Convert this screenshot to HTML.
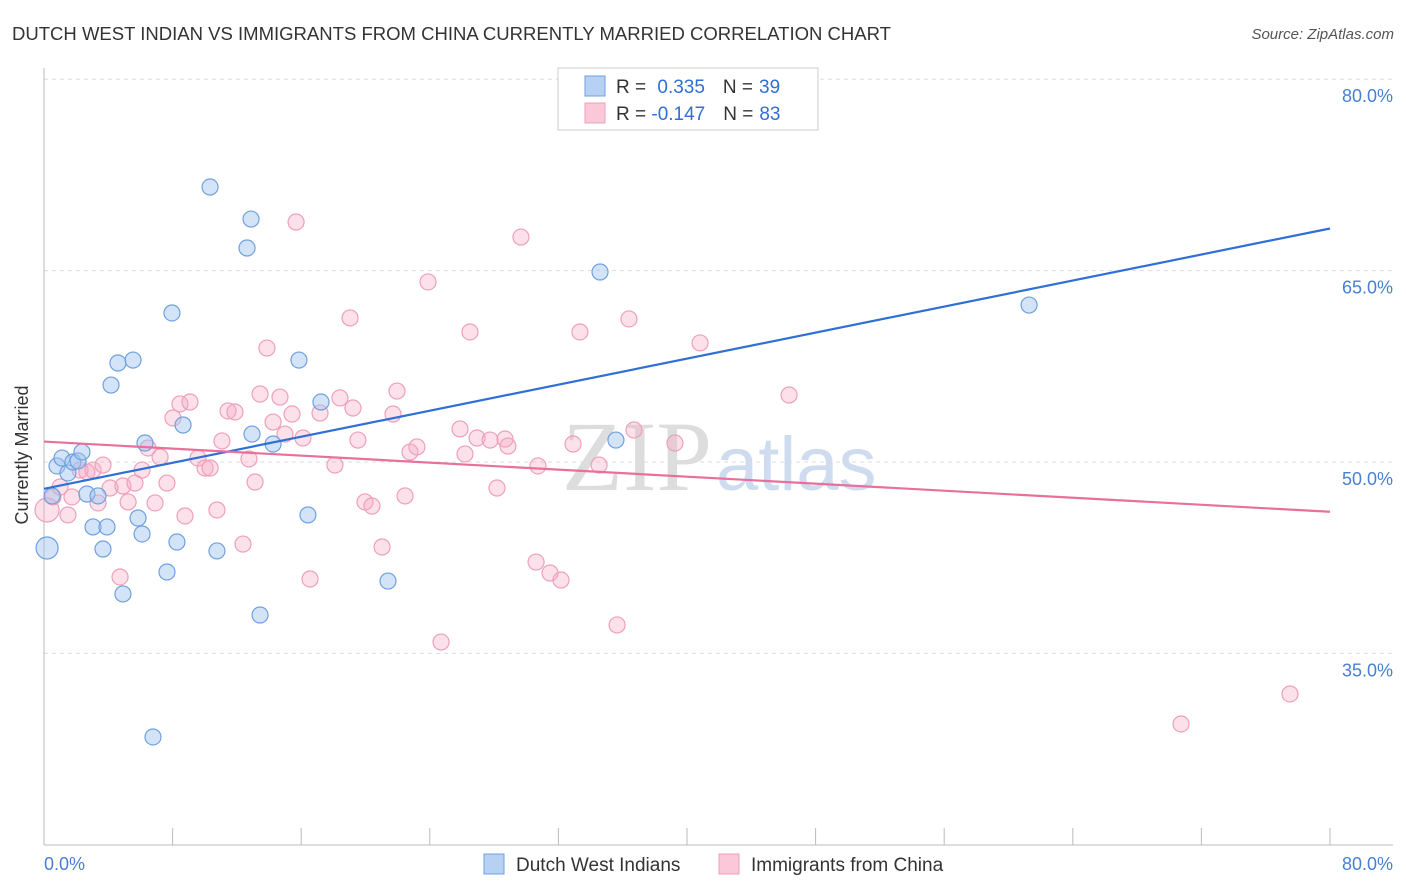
<!DOCTYPE html>
<html><head><meta charset="utf-8"><style>
body{margin:0;background:#fff;font-family:"Liberation Sans",sans-serif;}
#c{position:relative;width:1406px;height:892px;overflow:hidden}
</style></head><body>
<div id="c">
<svg id="s" width="1406" height="892" xmlns="http://www.w3.org/2000/svg">
<text x="12" y="40" font-size="18" fill="#333" textLength="879" lengthAdjust="spacingAndGlyphs">DUTCH WEST INDIAN VS IMMIGRANTS FROM CHINA CURRENTLY MARRIED CORRELATION CHART</text>
<text x="1394" y="39" font-size="15" fill="#555" font-style="italic" text-anchor="end">Source: ZipAtlas.com</text>
<text x="712" y="490" font-size="100" fill="#ddd" text-anchor="end" font-family="Liberation Serif,serif">ZIP</text>
<text x="716" y="490" font-size="76" fill="#cfdcf0">atlas</text>
<g id="grid"></g><g id="axes"></g><g id="pts"></g><g id="trend"></g>
<text x="28" y="455" font-size="18" fill="#333" text-anchor="middle" transform="rotate(-90 28 455)">Currently Married</text>
<text x="44" y="870" font-size="18" fill="#4a7fd0">0.0%</text>
<text x="1393" y="870" font-size="18" fill="#4a7fd0" text-anchor="end">80.0%</text>
<g>
<rect x="558" y="68" width="260" height="62" fill="#fff" stroke="#ccc"/>
<rect x="585" y="76" width="20" height="20" fill="#b7d1f5" stroke="#6fa0e0"/>
<rect x="585" y="103" width="20" height="20" fill="#fac8d8" stroke="#eea0b8"/>
<text x="616" y="93" font-size="19" fill="#333">R = <tspan fill="#2f6fd6" dx="6">0.335</tspan><tspan dx="18" fill="#333">N =</tspan><tspan fill="#2f6fd6" dx="6">39</tspan></text>
<text x="616" y="120" font-size="19" fill="#333">R = <tspan fill="#2f6fd6" dx="0">-0.147</tspan><tspan dx="18" fill="#333">N =</tspan><tspan fill="#2f6fd6" dx="6">83</tspan></text>
</g>
<g>
<rect x="484" y="854" width="20" height="20" fill="#b7d1f5" stroke="#6fa0e0"/>
<text x="516" y="871" font-size="19" fill="#333">Dutch West Indians</text>
<rect x="719" y="854" width="20" height="20" fill="#fac8d8" stroke="#eea0b8"/>
<text x="751" y="871" font-size="19" fill="#333">Immigrants from China</text>
</g>
</svg></div>
<script>
const yTicks=[80,65,50,35];
const blueX=[0.19,0.50,0.81,1.12,1.49,1.80,2.12,2.36,2.67,3.05,3.36,3.67,3.92,4.17,4.60,4.91,5.54,5.85,6.10,6.28,6.78,7.65,7.96,8.27,8.65,10.33,10.76,12.63,12.88,12.94,13.44,14.25,15.86,16.42,17.23,21.40,34.59,35.58,61.28];
const blueY=[43.26,47.34,49.69,50.31,49.14,50.0,50.08,50.78,47.49,44.91,47.34,43.18,44.91,56.03,57.76,39.66,57.99,45.61,44.36,51.49,28.45,41.38,61.68,43.73,52.90,71.55,43.03,66.77,69.04,52.19,38.01,51.41,57.99,45.85,54.70,40.67,64.89,51.72,62.30];
const pinkX=[0.19,0.56,1.0,1.49,1.74,2.24,2.67,3.05,3.36,3.67,4.11,4.73,4.91,5.23,5.66,6.10,6.47,6.91,7.22,7.65,8.02,8.46,8.77,9.08,9.58,10.02,10.33,10.76,11.07,11.45,11.88,12.38,12.75,13.13,13.44,13.87,14.25,14.68,14.99,15.43,15.68,16.11,16.55,17.17,18.10,18.41,19.04,19.22,19.53,19.97,20.40,21.03,21.71,21.96,22.46,22.77,23.20,23.89,24.70,25.88,26.19,26.50,26.94,27.75,28.18,28.68,28.86,29.67,30.61,30.73,31.48,32.16,32.91,33.34,34.53,35.65,36.39,36.70,39.25,40.81,46.35,70.73,77.51];
const pinkY=[46.24,47.26,48.04,45.85,47.26,49.37,49.22,49.37,46.79,49.76,47.96,40.99,48.12,46.87,48.35,49.37,51.10,46.79,50.39,48.35,53.45,54.55,45.77,54.70,50.31,49.53,49.53,46.24,51.65,54.0,53.92,43.57,50.24,48.43,55.33,58.93,53.13,55.09,52.19,53.76,68.81,51.88,40.83,53.84,49.76,55.02,61.29,54.23,51.72,46.87,46.55,43.34,53.76,55.56,47.34,50.78,51.18,64.11,35.89,52.59,50.63,60.19,51.88,51.72,47.96,51.80,51.25,67.63,42.16,49.69,41.30,40.75,51.41,60.19,49.76,37.23,61.21,52.51,51.49,59.33,55.25,29.47,31.82];
const trendBlue=[47.9,68.3];
const trendPink=[51.6,46.1];
const NS="http://www.w3.org/2000/svg";
const X=v=>44+v*16.075, Y=v=>462-(v-50)*12.76;
function mk(p,t,a){const e=document.createElementNS(NS,t);for(const k in a)e.setAttribute(k,a[k]);p.appendChild(e);return e;}
const grid=document.getElementById('grid'),axes=document.getElementById('axes'),pts=document.getElementById('pts'),tr=document.getElementById('trend');
yTicks.forEach(t=>{
 const l=mk(grid,'line',{x1:44,x2:1393,y1:Y(t),y2:Y(t),stroke:'#ddd','stroke-dasharray':'4 4'});
 
 
 const tx=mk(grid,'text',{x:1393,y:Y(t)+23,'font-size':18,fill:'#4a7fd0','text-anchor':'end'});
 tx.textContent=t.toFixed(1)+'%';
 
 
});
const ax=mk(axes,'line',{x1:44,x2:44,y1:68,y2:845,stroke:'#bbb'});


const bx=mk(axes,'line',{x1:44,x2:1393,y1:845,y2:845,stroke:'#bbb'});


for(let i=0;i<=10;i++){const t=mk(axes,'line',{x1:X(i*8),x2:X(i*8),y1:828,y2:845,stroke:'#bbb'});
 
 }
pinkX.forEach((x,i)=>{const c=mk(pts,'circle',{cx:X(x),cy:Y(pinkY[i]),r:i==0?12:8,fill:'rgba(245,170,195,0.35)',stroke:'#eea0b8','stroke-width':1.2});
 
 });
blueX.forEach((x,i)=>{const c=mk(pts,'circle',{cx:X(x),cy:Y(blueY[i]),r:i==0?11:8,fill:'rgba(160,195,240,0.45)',stroke:'#6fa0e0','stroke-width':1.2});
 
 });
const tb=mk(tr,'line',{x1:X(0),x2:X(80),y1:Y(trendBlue[0]),y2:Y(trendBlue[1]),stroke:'#2f6fd6','stroke-width':2.2});


const tp=mk(tr,'line',{x1:X(0),x2:X(80),y1:Y(trendPink[0]),y2:Y(trendPink[1]),stroke:'#e8709a','stroke-width':2.2});


</script>
</body></html>
